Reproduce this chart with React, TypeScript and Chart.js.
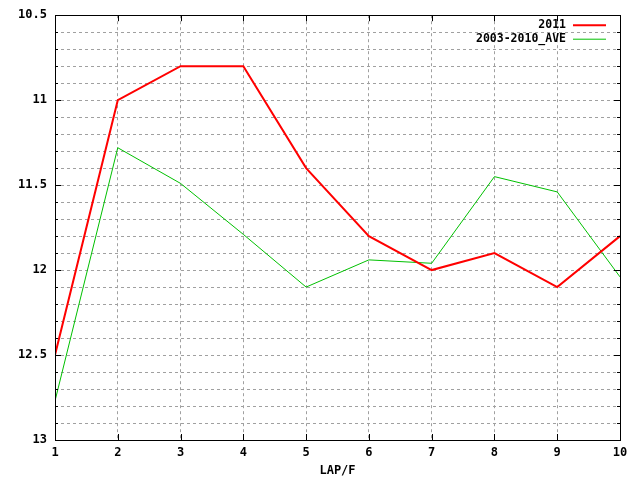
import { useEffect, useRef } from 'react';
import { Chart, registerables } from 'chart.js';

Chart.register(...registerables);

const laps = [1, 2, 3, 4, 5, 6, 7, 8, 9, 10];
const series2011 = [12.5, 11.0, 10.8, 10.8, 11.4, 11.8, 12.0, 11.9, 12.1, 11.8];
const seriesAve = [12.77, 11.28, 11.49, 11.79, 12.1, 11.94, 11.96, 11.45, 11.54, 12.04];
const seriesLabels = ['2011', '2003-2010_AVE'];
const seriesColors = ['#ff0000', '#00c000'];
const seriesWidths = [2, 1];

const FONT = '"DejaVu Sans Mono", monospace';

const isMajor = (v: number) => Math.abs(v * 2 - Math.round(v * 2)) < 1e-6;

// gnuplot style frame: border box + ticks pointing inward
const framePlugin = {
  id: 'frame',
  afterDatasetsDraw(chart: any) {
    const { ctx, chartArea: a, scales } = chart;
    ctx.save();
    ctx.strokeStyle = '#000';
    ctx.lineWidth = 1;
    ctx.beginPath();
    scales.y.ticks.forEach((t: any) => {
      const y = Math.round(scales.y.getPixelForValue(t.value)) + 0.5;
      const len = isMajor(t.value) ? 6 : 3;
      ctx.moveTo(a.left, y);
      ctx.lineTo(a.left + len, y);
      ctx.moveTo(a.right, y);
      ctx.lineTo(a.right - len, y);
    });
    scales.x.ticks.forEach((t: any) => {
      const x = Math.round(scales.x.getPixelForValue(t.value)) + 0.5;
      ctx.moveTo(x, a.bottom);
      ctx.lineTo(x, a.bottom - 6);
      ctx.moveTo(x, a.top);
      ctx.lineTo(x, a.top + 6);
    });
    ctx.stroke();
    ctx.strokeRect(Math.round(a.left) + 0.5, Math.round(a.top) + 0.5, Math.round(a.right - a.left), Math.round(a.bottom - a.top));

    // key, top right inside the plot
    ctx.font = 'bold 11.5px ' + FONT;
    ctx.textAlign = 'right';
    ctx.textBaseline = 'middle';
    chart.data.datasets.forEach((ds: any, i: number) => {
      const y = a.top + 10 + i * 14;
      ctx.fillStyle = '#000';
      ctx.fillText(ds.label, a.right - 54, y);
      ctx.strokeStyle = ds.borderColor;
      ctx.lineWidth = ds.borderWidth;
      ctx.beginPath();
      ctx.moveTo(a.right - 47, y);
      ctx.lineTo(a.right - 14, y);
      ctx.stroke();
    });
    ctx.restore();
  },
};

export default function App() {
  const chartRef = useRef<HTMLCanvasElement>(null);
  const chartInstance = useRef<Chart | null>(null);

  useEffect(() => {
    document.body.style.margin = '0';
    if (!chartRef.current) return;
    if (chartInstance.current) chartInstance.current.destroy();
    const ctx = chartRef.current.getContext('2d');
    if (!ctx) return;

    Chart.defaults.color = '#000';

    chartInstance.current = new Chart(ctx, {
      type: 'line',
      data: {
        datasets: [series2011, seriesAve].map((vals, i) => ({
          label: seriesLabels[i],
          data: vals.map((v, j) => ({ x: laps[j], y: v })),
          borderColor: seriesColors[i],
          backgroundColor: seriesColors[i],
          borderWidth: seriesWidths[i],
          pointRadius: 0,
          tension: 0,
          fill: false,
        })),
      },
      options: {
        responsive: true,
        maintainAspectRatio: false,
        animation: false,
        layout: { padding: { top: 13, right: 20, left: 0, bottom: 0 } },
        plugins: {
          legend: { display: false },
          tooltip: { enabled: false },
        },
        scales: {
          x: {
            type: 'linear',
            min: 1,
            max: 10,
            ticks: {
              stepSize: 1,
              padding: 6,
              font: { family: FONT, size: 12, weight: 'bold' },
            },
            grid: { color: '#a0a0a0', drawTicks: false },
            border: { display: false, dash: [3, 3] },
            title: {
              display: true,
              text: 'LAP/F',
              padding: { top: 0, bottom: 2 },
              font: { family: FONT, size: 12, weight: 'bold' },
            },
            afterFit: (s: any) => { s.height = 40; },
          },
          y: {
            type: 'linear',
            reverse: true,
            min: 10.5,
            max: 13,
            ticks: {
              stepSize: 0.1,
              padding: 8,
              autoSkip: false,
              font: { family: FONT, size: 12, weight: 'bold' },
              callback: (v: any) => (isMajor(Number(v)) ? String(Number(Number(v).toFixed(1))) : ''),
            },
            grid: { color: '#a0a0a0', drawTicks: false },
            border: { display: false, dash: [3, 3] },
            afterFit: (s: any) => { s.width = 55; },
          },
        },
      },
      plugins: [framePlugin],
    });

    return () => {
      if (chartInstance.current) {
        chartInstance.current.destroy();
        chartInstance.current = null;
      }
    };
  }, []);

  return (
    <div style={{ width: 640, height: 480, background: '#fff' }}>
      <canvas ref={chartRef}></canvas>
    </div>
  );
}
